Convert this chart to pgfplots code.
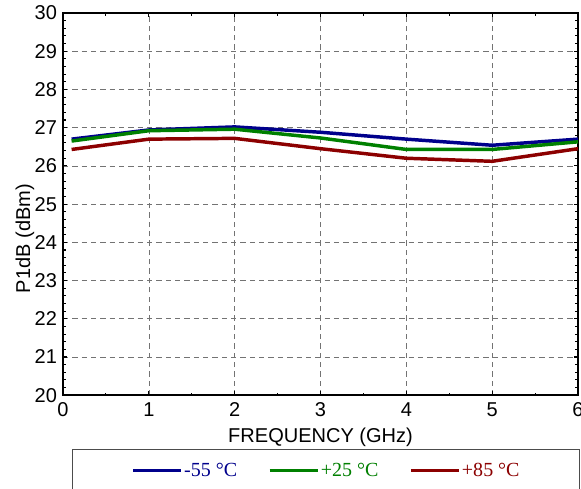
\documentclass[border=0pt]{standalone}
\usepackage{fontspec}
\setmainfont{Liberation Sans}
\newfontfamily\legfont{Liberation Serif}
\usepackage{pgfplots}
\pgfplotsset{compat=1.18}
\usetikzlibrary{calc}

\definecolor{cblue}{RGB}{0,0,140}
\definecolor{cgreen}{RGB}{0,128,0}
\definecolor{cred}{RGB}{140,0,0}

\begin{document}
\begin{tikzpicture}
\begin{axis}[
    name=ax,
    scale only axis,
    width=386pt, height=286.5pt,
    xmin=0, xmax=6, ymin=20, ymax=30,
    xtick={0,...,6}, ytick={20,...,30},
    minor x tick num=1, minor y tick num=4,
    tick align=inside,
    major tick length=3pt, minor tick length=2pt,
    tick style={black, line width=0.8pt},
    axis line style={line width=1.5pt},
    grid=major,
    major grid style={black!55, dash pattern=on 4pt off 3pt, line width=0.5pt},
    ticklabel style={font=\fontsize{15}{18}\selectfont},
    xticklabel style={yshift=-2pt},
    yticklabel style={xshift=-1pt},
    /pgf/number format/assume math mode=true,
    xlabel={FREQUENCY (GHz)},
    ylabel={P1dB (dBm)},
    label style={font=\fontsize{15}{18}\selectfont},
    xlabel style={at={(axis description cs:0.5,-0.11)}, anchor=center},
    ylabel style={at={(axis description cs:-0.074,0.41)}, anchor=center},
    legend columns=3,
    legend image code/.code={\draw[#1] (0pt,0pt) -- (36pt,0pt);},
    legend style={at={(0.511,-0.141)}, anchor=north,
        draw=black!70, line width=0.6pt,
        inner xsep=44pt, inner ysep=8pt,
        font=\legfont\fontsize{15}{18}\selectfont,
        /tikz/every even column/.append style={column sep=22pt},
        nodes={inner xsep=1pt}},
]
\addplot[cblue, line width=2.6pt] coordinates {
    (0.1,26.70) (1,26.94) (2,27.02) (3,26.88) (4,26.70) (5,26.54) (6,26.70)
};
\addlegendentry{\textcolor{cblue}{-55 °C}}
\addplot[cgreen, line width=2.6pt] coordinates {
    (0.1,26.65) (1,26.92) (2,26.96) (3,26.73) (4,26.43) (5,26.43) (6,26.63)
};
\addlegendentry{\textcolor{cgreen}{+25 °C}}
\addplot[cred, line width=2.6pt] coordinates {
    (0.1,26.43) (1,26.70) (2,26.72) (3,26.45) (4,26.20) (5,26.12) (6,26.45)
};
\addlegendentry{\textcolor{cred}{+85 °C}}
\end{axis}
\pgfresetboundingbox
\path ($(ax.south west)+(-47.25pt,-69.75pt)$) rectangle ($(ax.north east)+(2.25pt,9.75pt)$);
\end{tikzpicture}
\end{document}
